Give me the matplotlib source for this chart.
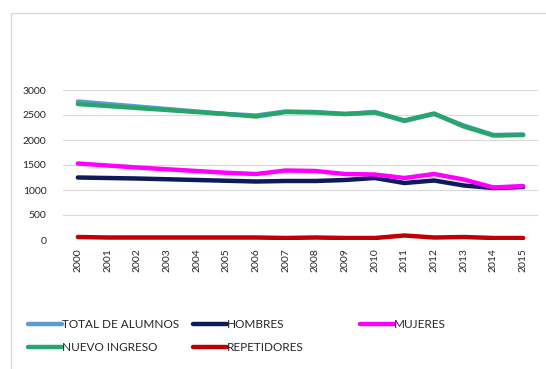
import matplotlib
matplotlib.use("Agg")
import matplotlib.pyplot as plt
from matplotlib.patches import Rectangle

years = ["2000", "2001", "2002", "2003", "2004", "2005", "2006", "2007",
         "2008", "2009", "2010", "2011", "2012", "2013", "2014", "2015"]
total = [2770, 2720, 2670, 2620, 2570, 2520, 2490, 2570, 2560, 2520, 2560, 2380, 2520, 2290, 2100, 2110]
hombres = [1250, 1240, 1230, 1215, 1200, 1185, 1170, 1180, 1180, 1200, 1240, 1140, 1190, 1090, 1040, 1060]
mujeres = [1530, 1490, 1450, 1415, 1380, 1345, 1320, 1390, 1380, 1320, 1310, 1240, 1320, 1210, 1050, 1080]
nuevo = [2720, 2680, 2640, 2600, 2560, 2520, 2470, 2560, 2550, 2520, 2550, 2390, 2530, 2270, 2090, 2100]
repetidores = [60, 50, 50, 50, 50, 50, 50, 40, 50, 40, 40, 90, 50, 60, 40, 40]

names = ["TOTAL DE ALUMNOS", "HOMBRES", "MUJERES", "NUEVO INGRESO", "REPETIDORES"]
colors = ["#5b9bd5", "#0d1a5c", "#ff00ff", "#27a56b", "#c00000"]

plt.rcParams['font.family'] = ['Lato', 'DejaVu Sans']

W, H = 546, 369
fig = plt.figure(figsize=(W / 100, H / 100), dpi=100)
fig.patch.set_facecolor("white")

# outer chart border
fig.add_artist(Rectangle((11 / W, -0.05), 1.2, 1 - 13 / H + 0.05, transform=fig.transFigure,
                         fill=False, edgecolor="#d9d9d9", linewidth=1.0))

ax = fig.add_axes([63 / W, 1 - 240 / H, (538 - 63) / W, 150 / H])
x = list(range(len(years)))
series = [total, hombres, mujeres, nuevo, repetidores]
handles = []
for s, n, c in zip(series, names, colors):
    (h,) = ax.plot(x, s, color=c, linewidth=3.2, label=n, solid_capstyle="round")
    handles.append(h)

ax.set_xlim(-0.5, len(years) - 0.5)
ax.set_ylim(0, 3000)
ax.set_yticks([0, 500, 1000, 1500, 2000, 2500, 3000])
ax.set_xticks(x)
ax.set_xticklabels(years, rotation=90, fontsize=7.5, color="#262626")
ax.tick_params(axis="y", labelsize=7.5, labelcolor="#262626", length=0, pad=12)
ax.tick_params(axis="x", length=0, pad=6)
ax.grid(axis="y", color="#d9d9d9", linewidth=0.8)
ax.set_axisbelow(True)
for sp in ax.spines.values():
    sp.set_visible(False)

# legend: three columns placed like Excel's layout
cols = [([handles[0], handles[3]], 28), ([handles[1], handles[4]], 193), ([handles[2]], 360)]
for hs, xpix in cols:
    fig.legend(handles=hs, labels=[h.get_label() for h in hs], loc="upper left",
               bbox_to_anchor=(xpix / W, 1 - 319 / H), frameon=False,
               fontsize=8.5, handlelength=2.9, handletextpad=0.0, labelspacing=1.0,
               borderaxespad=0, borderpad=0, labelcolor="#262626")

fig.savefig("out.png", dpi=100)
